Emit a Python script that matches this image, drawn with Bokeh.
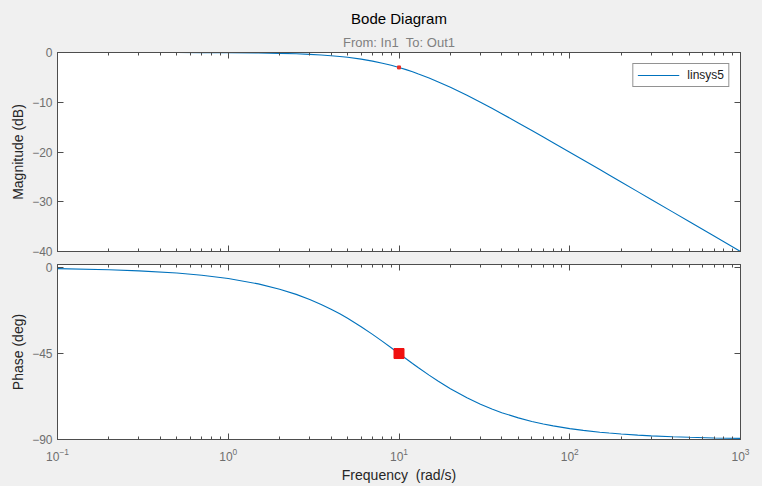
from bokeh.plotting import figure
from bokeh.models import (FixedTicker, LinearAxis, LogAxis, Legend, Title, Range1d)
from bokeh.layouts import column
from bokeh.embed import file_html
from bokeh.resources import INLINE

# ---- data ----
freq = [0.1, 0.2, 0.3, 0.5, 0.7, 1, 1.5, 2, 2.5, 3, 3.5, 4, 4.5, 5, 6, 7, 8, 9, 10,
        11, 12, 13, 15, 17, 20, 25, 30, 35, 40, 50, 60, 70, 80, 100, 120, 150, 170,
        200, 250, 300, 400, 500, 700, 1000]
magnitude_db = [0.0, 0.0, 0.0, -0.01, -0.02, -0.04, -0.1, -0.17, -0.26, -0.37, -0.51,
                -0.64, -0.8, -0.97, -1.34, -1.73, -2.15, -2.57, -3.01,
                -3.44, -3.87, -4.34, -5.12, -5.92, -6.99, -8.6, -10.0, -11.22, -12.3,
                -14.15, -15.68, -16.99, -18.13, -20.04, -21.6, -23.52, -24.61,
                -26.03, -27.96, -29.54, -32.04, -33.98, -36.9, -40.0]
phase_deg = [-0.57, -1.15, -1.72, -2.86, -4.0, -5.71, -8.53, -11.31, -14.04, -16.7,
             -19.29, -21.8, -24.23, -26.57, -30.96, -34.99, -38.66, -41.99, -45.0,
             -47.73, -50.19, -52.43, -56.31, -59.53, -63.43, -68.2, -71.57, -74.05,
             -75.96, -78.69, -80.54, -81.87, -82.87, -84.29, -85.24, -86.19, -86.63,
             -87.14, -87.71, -88.09, -88.57, -88.85, -89.18, -89.43]
mark_freq = [10]
mark_mag = [-3.0]
mark_phase = [-45.0]

x_major = [0.1, 1, 10, 100, 1000]
x_labels = {"0.1": "10⁻¹", "1": "10⁰", "10": "10¹", "100": "10²", "1000": "10³"}
mag_ticks = [-40, -30, -20, -10, 0]
phase_ticks = [-90, -45, 0]
legend_label = "linsys5"
title_text = "Bode Diagram"
subtitle_text = "From: In1\u00a0\u00a0To: Out1"
xlabel_text = "Frequency\u00a0\u00a0(rad/s)"

x_minor = []
for d in [0.1, 1, 10, 100]:
    for k in range(2, 10):
        x_minor.append(d * k)

FONT = "Liberation Sans"
LINE = "#0072BD"
AXC = "#4d4d4d"
TICKC = "#6e6e6e"
BG = "#f0f0f0"

xr = Range1d(0.1, 1000)


def style_axis(ax, labels=True):
    ax.axis_line_color = AXC
    ax.major_tick_line_color = AXC
    ax.minor_tick_line_color = AXC
    ax.major_tick_in = 6
    ax.major_tick_out = 0
    ax.minor_tick_in = 3
    ax.minor_tick_out = 0
    ax.major_label_text_font = FONT
    ax.major_label_text_color = TICKC
    ax.major_label_text_font_size = "12px"
    ax.axis_label_text_font = FONT
    ax.axis_label_text_font_style = "normal"
    ax.axis_label_text_font_size = "14px"
    ax.axis_label_text_color = "#262626"
    if not labels:
        ax.major_label_text_font_size = "1px"
        ax.major_label_text_alpha = 0
        ax.major_label_standoff = 0


def make_fig(height, yr, yticks, border_top, border_bottom, ylabel, show_xlabels):
    p = figure(width=762, height=height, x_axis_type="log", x_range=xr,
               y_range=yr, output_backend="svg", toolbar_location=None,
               min_border_left=57, min_border_right=22,
               min_border_top=border_top, min_border_bottom=border_bottom,
               background_fill_color="white", border_fill_color=BG)
    p.grid.visible = False
    p.outline_line_color = AXC
    p.xaxis.ticker = FixedTicker(ticks=x_major, minor_ticks=x_minor)
    p.yaxis.ticker = FixedTicker(ticks=yticks, minor_ticks=[])
    p.xaxis.major_label_overrides = x_labels
    for ax in p.xaxis:
        style_axis(ax, show_xlabels)
    for ax in p.yaxis:
        style_axis(ax, True)
        ax.axis_label = ylabel
        ax.major_label_standoff = 5
        ax.axis_label_standoff = 3
    top = LogAxis(ticker=FixedTicker(ticks=x_major, minor_ticks=x_minor))
    style_axis(top, False)
    p.add_layout(top, "above")
    right = LinearAxis(ticker=FixedTicker(ticks=yticks, minor_ticks=[]))
    style_axis(right, False)
    p.add_layout(right, "right")
    return p


p1 = make_fig(258, Range1d(-40, 0), mag_ticks, 52, 7, "Magnitude (dB)", False)
p2 = make_fig(228, Range1d(-90, 1.6), phase_ticks, 6, 47, "Phase (deg)", True)
xb = p2.below[0]
xb.axis_label = xlabel_text
xb.major_label_standoff = 8
xb.axis_label_standoff = 3

r1 = p1.line(freq, magnitude_db, line_color=LINE, line_width=1.1)
p2.line(freq, phase_deg, line_color=LINE, line_width=1.1)
p1.scatter(mark_freq, mark_mag, marker="square", size=3, color="#e8302a")
p2.scatter(mark_freq, mark_phase, marker="square", size=10, color="#f01010")

legend = Legend(items=[(legend_label, [r1])], location="top_right", margin=11,
                padding=4, spacing=0, glyph_width=42, glyph_height=12,
                label_height=12, label_standoff=8,
                label_text_font=FONT, label_text_font_size="12px",
                label_text_color="#1a1a1a",
                border_line_color="#262626", border_line_width=1,
                background_fill_color="white", background_fill_alpha=1)
p1.add_layout(legend)

p1.title = Title(text=title_text, align="center", text_font=FONT,
                 text_font_size="15px", text_font_style="normal",
                 text_color="#000000", standoff=5)
p1.add_layout(Title(text=subtitle_text, align="center", text_font=FONT,
                    text_font_size="13px", text_font_style="normal",
                    text_color="#808080", standoff=6), "above")

layout = column(p1, p2, spacing=0)

html = file_html(layout, INLINE)
html = html.replace(
    "<head>",
    "<head><style>html,body{background:#f0f0f0;margin:0;padding:0;overflow:hidden;}</style>",
    1)
open("out.html", "w").write(html)
